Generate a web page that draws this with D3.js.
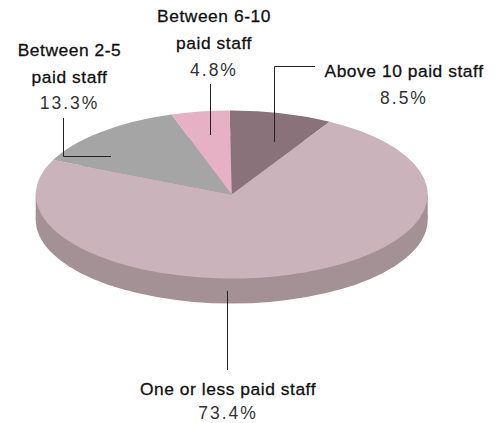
<!DOCTYPE html>
<html><head><meta charset="utf-8">
<script src="https://cdn.jsdelivr.net/npm/d3@7"></script>
<style>html,body{margin:0;padding:0;background:#fff}svg{display:block}
.n{font:400 17.4px "Liberation Sans",Arial,sans-serif;fill:#111;stroke:#111;stroke-width:.3px;text-anchor:middle;letter-spacing:.55px}
.v{font:400 17.5px "Liberation Sans",Arial,sans-serif;fill:#333;text-anchor:middle;letter-spacing:2px}</style>
</head><body><script>
const categories=["Above 10 paid staff","One or less paid staff","Between 2-5 paid staff","Between 6-10 paid staff"];
const values=[8.5,73.4,13.3,4.8];
const valueLabels=["8.5%","73.4%","13.3%","4.8%"];
const colors=["#8a727a","#cab3ba","#a5a5a5","#e6b1c4"];
const sideColor="#a39195";
const W=496,H=423,cx=231.7,cy=194.5,rx=196,ry=84,depth=25;
const svg=d3.select("body").append("svg").attr("width",W).attr("height",H);
const a0=-0.6*Math.PI/180;
const pie=d3.pie().sort(null).startAngle(a0).endAngle(a0+2*Math.PI)(values);
const arc=d3.arc().innerRadius(0).outerRadius(rx);
const full=d3.arc().innerRadius(0).outerRadius(rx).startAngle(0).endAngle(2*Math.PI)();
svg.append("path").attr("d",full).attr("fill",sideColor).attr("transform",`translate(${cx},${cy+depth}) scale(1,${ry/rx})`);
svg.append("rect").attr("x",cx-rx).attr("y",cy).attr("width",2*rx).attr("height",depth).attr("fill",sideColor);
svg.append("g").attr("transform",`translate(${cx},${cy}) scale(1,${ry/rx})`).selectAll("path").data(pie).join("path")
  .attr("d",arc).attr("fill",(d,i)=>colors[i]);
const leaders=[[[315,66.5],[274.5,66.5],[274.5,142]],[[227.5,291],[227.5,370]],[[63.5,118],[63.5,156.5],[111,156.5]],[[210.5,84],[210.5,135]]];
svg.append("g").selectAll("path").data(leaders).join("path").attr("d",d3.line()).attr("fill","none").attr("stroke","#222").attr("stroke-width",1);
const labels=[
 {i:0,x:404,lines:["Above 10 paid staff"],y:[77],vy:104},
 {i:1,x:228,lines:["One or less paid staff"],y:[395],vy:418.5},
 {i:2,x:69.5,lines:["Between 2-5","paid staff"],y:[56,83],vy:109},
 {i:3,x:214,lines:["Between 6-10","paid staff"],y:[22,49],vy:76}];
labels.forEach(l=>{
  l.lines.forEach((t,k)=>svg.append("text").attr("class","n").attr("x",l.x).attr("y",l.y[k]).text(t));
  svg.append("text").attr("class","v").attr("x",l.x).attr("y",l.vy).text(valueLabels[l.i]);
});
</script></body></html>
